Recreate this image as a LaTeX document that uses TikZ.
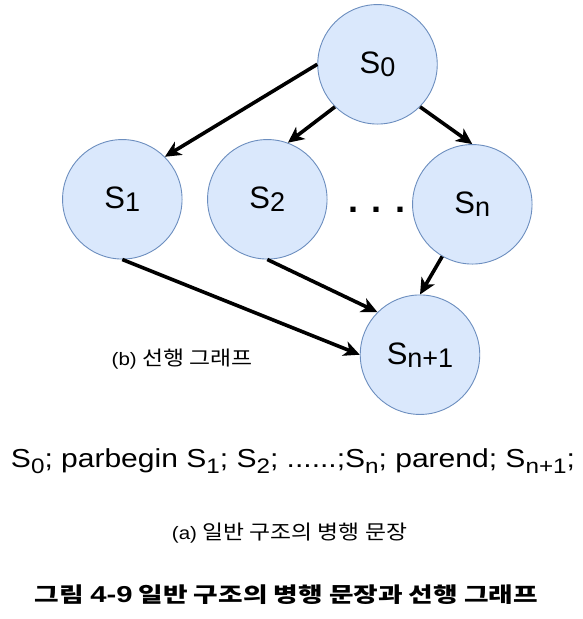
\documentclass[tikz,border=0pt]{standalone}
\usepackage{fontspec}
\usepackage{graphicx}
\setmainfont{Liberation Sans}
\newfontfamily\lat{Liberation Sans}
\newfontfamily\kr{Noto Sans CJK KR}
\usetikzlibrary{arrows.meta}
\definecolor{nodefill}{HTML}{DAE8FC}
\definecolor{nodeline}{HTML}{6C8EBF}
\newcommand{\px}[1]{\fontsize{#1pt}{#1pt}\selectfont}
\newcommand{\SNode}[1]{{\px{31}S\raisebox{-3pt}{\px{27}#1}}}
\newcommand{\SSub}[1]{S\raisebox{-5.5pt}{\px{21}#1}}
\begin{document}
\begin{tikzpicture}[x=1pt,y=-1pt,
  state/.style={circle, draw=nodeline, fill=nodefill, line width=0.9pt, minimum size=119.5pt, inner sep=0pt},
  edge/.style={-{Stealth[length=16pt,width=15pt,inset=4.5pt]}, line width=3.6pt, black},
  lbl/.style={anchor=base, inner sep=0pt}]
\useasboundingbox (0,0) rectangle (583,619);
\fill[white] (0,0) rectangle (583,619);
% states
\node[state] (s0)  at (377.5,64.3)  {\SNode{0}};
\node[state] (s1)  at (122.3,199.3) {\SNode{1}};
\node[state] (s2)  at (267.3,199.3) {\SNode{2}};
\node[state] (sn)  at (472.3,204.3) {\SNode{n}};
\node[state] (sn1) at (420,354.7)   {\SNode{n+1}};
% dots
\node[lbl, font=\px{36}\bfseries] (dots) at (377,212.5) {. . .};
% edges
\draw[edge] (s0.west) -- (s1.45);
\draw[edge] (s0.225) -- (s2.70);
\draw[edge] (s0.-45) -- (sn.north);
\draw[edge] (sn.240) -- (sn1.north);
\draw[edge] (s1.south) -- (sn1.west);
\draw[edge] (s2.south) -- (sn1.135);
% labels
\node[lbl] (lblb) at (182.2,365) {\resizebox{141pt}{\height}{\px{18}(b) {\kr\px{20}선행 그래프}}};
\node[lbl] (formula) at (293,467.5) {\resizebox{564pt}{\height}{\px{26}\SSub{0}; parbegin \SSub{1}; \SSub{2}; ......;\SSub{n}; parend; \SSub{n+1};}};
\node[lbl] (lbla) at (289.5,539.5) {\resizebox{235pt}{\height}{\px{18}(a) {\kr\px{20}일반 구조의 병행 문장}}};
\node[lbl] (title) at (286.5,602) {\resizebox{503pt}{\height}{\kr\bfseries\px{21}그림 {\lat\px{23}4-9} 일반 구조의 병행 문장과 선행 그래프}};
\end{tikzpicture}
\end{document}
